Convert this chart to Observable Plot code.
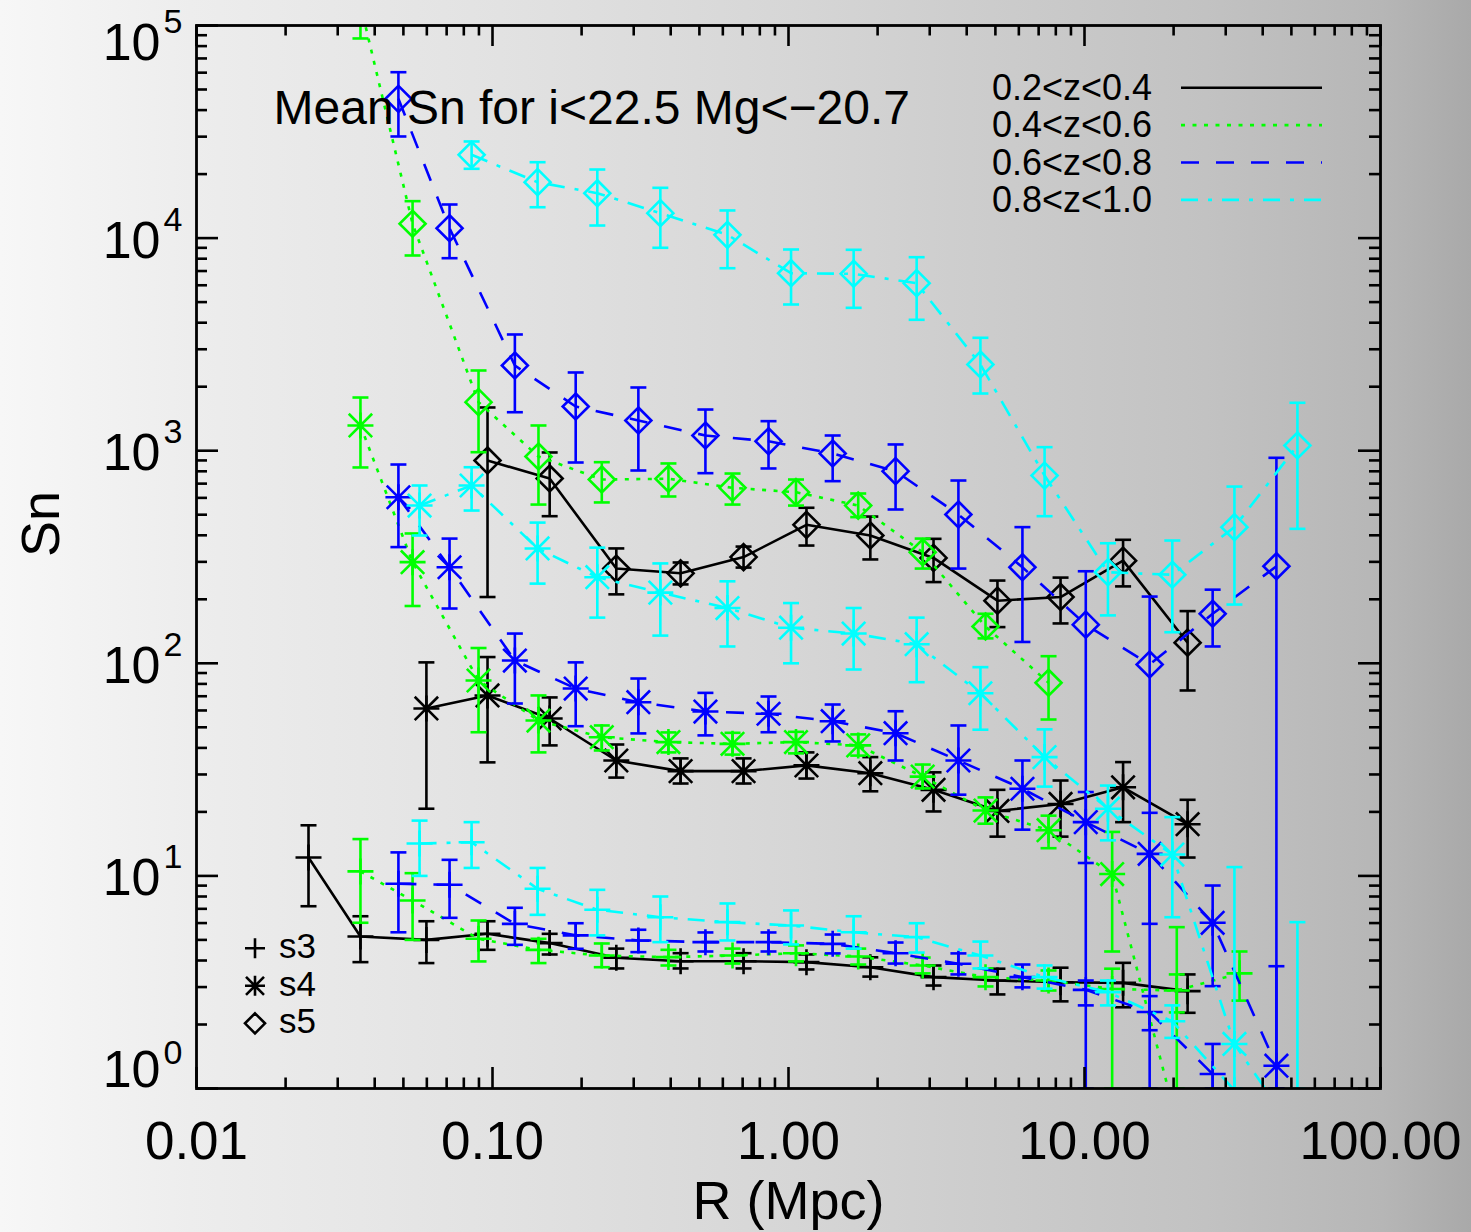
<!DOCTYPE html>
<html><head><meta charset="utf-8">
<script src="https://cdn.jsdelivr.net/npm/d3@7"></script>
<script src="https://cdn.jsdelivr.net/npm/@observablehq/plot@0.6"></script>
<style>
html,body{margin:0;padding:0;}
body{width:1471px;height:1232px;overflow:hidden;
background:linear-gradient(to right,#f7f7f7 0%,#ededed 13%,#e2e2e2 34%,#d6d6d6 54%,#cdcdcd 66%,#c2c2c2 82%,#b6b6b6 94%,#a9a9a9 100%);}
#chart svg{display:block;}
</style></head><body><div id="chart"></div>
<script>
// ---------------- data ----------------
// radii (Mpc) of the bins for each redshift slice
const R_z1 = [0.0239, 0.0358, 0.0598, 0.0962, 0.156, 0.262, 0.432, 0.705, 1.15, 1.89, 3.09, 5.08, 8.30, 13.5, 22.3];
const R_z2 = [0.0358, 0.0537, 0.0897, 0.143, 0.234, 0.393, 0.647, 1.06, 1.72, 2.84, 4.63, 7.56, 12.4, 20.5, 33.4];
const R_z3 = [0.0481, 0.0716, 0.119, 0.191, 0.311, 0.524, 0.856, 1.41, 2.30, 3.75, 6.17, 10.1, 16.6, 27.1, 44.5];
const R_z4 = [0.0567, 0.0850, 0.142, 0.226, 0.369, 0.622, 1.02, 1.66, 2.71, 4.45, 7.33, 12.0, 19.8, 32.1, 52.4];

// 0.2<z<0.4
const z1_s3    = [12.2, 5.19, 5.00, 5.34, 4.83, 4.12, 3.97, 3.97, 3.93, 3.72, 3.34, 3.22, 3.16, 3.14, 2.87];
const z1_s3_lo = [7.20, 3.93, 3.89, 4.49, 4.27, 3.67, 3.67, 3.67, 3.63, 3.36, 3.05, 2.77, 2.57, 2.41, 2.27];
const z1_s3_hi = [17.3, 6.46, 6.12, 6.12, 5.34, 4.55, 4.33, 4.33, 4.27, 4.14, 3.79, 3.66, 3.70, 3.90, 3.44];
const z1_s4    = [null, null, 61.3, 70.6, 55.0, 34.9, 31.1, 31.1, 33.1, 30.4, 25.4, 20.2, 21.8, 26.1, 17.5];
const z1_s4_lo = [null, null, 20.7, 34.2, 41.1, 29.0, 27.2, 27.2, 28.7, 25.0, 20.1, 15.3, 15.3, 17.9, 12.2];
const z1_s4_hi = [null, null, 101, 107, 69.1, 41.5, 35.7, 35.7, 38.1, 36.2, 30.7, 25.4, 28.1, 34.3, 22.8];
const z1_s5    = [null, null, null, 899, 740, 279, 265, 316, 448, 399, 313, 197, 205, 304, 125];
const z1_s5_lo = [null, null, null, 205, 492, 211, 235, 282, 358, 308, 241, 148, 154, 230, 74.5];
const z1_s5_hi = [null, null, null, 1597, 981, 347, 298, 354, 539, 490, 385, 245, 253, 381, 176];

// 0.4<z<0.6
const z2_s3    = [10.5, 7.66, 5.06, 4.49, 4.22, 4.15, 4.22, 4.33, 4.18, 3.79, 3.34, 3.22, 2.94, 2.89, 3.48];
const z2_s3_lo = [6.02, 5.00, 3.96, 3.89, 3.72, 3.79, 3.87, 3.96, 3.83, 3.48, 3.02, 2.89, 1.00, 2.28, 2.59];
const z2_s3_hi = [14.9, 10.3, 6.17, 5.06, 4.81, 4.49, 4.55, 4.71, 4.55, 4.13, 3.67, 3.59, 3.66, 3.44, 4.41];
const z2_s4    = [1314, 299, 83.0, 53.8, 44.9, 42.6, 41.8, 42.6, 41.1, 29.3, 20.3, 16.4, 10.2, 0.7, null];
const z2_s4_lo = [834, 186, 47.4, 38.1, 38.9, 38.1, 37.2, 37.7, 36.8, 25.8, 17.6, 13.5, 4.41, 1.00, null];
const z2_s4_hi = [1779, 408, 118, 70.6, 51.0, 47.3, 47.1, 47.6, 46.3, 33.4, 23.4, 19.2, 16.1, 5.74, null];
const z2_s5    = [125000, 11680, 1691, 939, 732, 738, 669, 638, 552, 333, 149, 81.0, null, null, null];
const z2_s5_lo = [86900, 8284, 984, 558, 571, 609, 558, 552, 487, 279, 131, 54.4, null, null, null];
const z2_s5_hi = [180000, 14920, 2384, 1314, 883, 871, 781, 732, 629, 386, 171, 108, null, null, null];

// 0.6<z<0.8
const z3_s3    = [9.18, 9.08, 5.95, 5.25, 4.97, 4.88, 4.88, 4.79, 4.33, 3.86, 3.34, 2.91, 2.29, 1.17, null];
const z3_s3_lo = [5.43, 6.35, 4.74, 4.54, 4.38, 4.41, 4.41, 4.32, 3.87, 3.44, 2.99, 2.46, 1.88, 1.00, null];
const z3_s3_hi = [12.9, 11.9, 7.08, 5.99, 5.58, 5.42, 5.42, 5.30, 4.86, 4.32, 3.83, 3.22, 2.72, 1.62, null];
const z3_s4    = [604, 283, 103, 76.1, 65.6, 59.3, 57.9, 53.4, 46.9, 34.9, 25.7, 17.9, 12.7, 6.02, 1.28];
const z3_s4_lo = [352, 181, 64.7, 50.6, 46.8, 45.8, 47.4, 42.9, 34.9, 24.1, 16.5, 11.5, 5.95, 3.03, 1.00];
const z3_s4_hi = [861, 386, 138, 101, 84.8, 72.6, 69.8, 64.0, 59.5, 51.0, 34.9, 24.8, 19.8, 9.01, 3.76];
const z3_s5    = [45200, 11130, 2516, 1614, 1387, 1179, 1108, 970, 801, 501, 283, 152, 98.7, 171, 286];
const z3_s5_lo = [30060, 8045, 1517, 880, 807, 784, 825, 719, 529, 279, 126, 1.00, 1.00, 120, 1.00];
const z3_s5_hi = [60300, 14390, 3521, 2333, 1983, 1562, 1377, 1179, 1070, 724, 437, 271, 206, 222, 926];

// 0.8<z<1.0
const z4_s3    = [14.2, 14.4, 8.70, 6.93, 6.39, 6.06, 5.84, 5.43, 5.15, 4.22, 3.34, 2.84, 2.07, 0.98, null];
const z4_s3_lo = [10.0, 10.9, 6.56, 5.25, 4.88, 4.97, 4.76, 4.55, 4.36, 3.67, 2.95, 2.46, 1.73, null, null];
const z4_s3_hi = [18.2, 17.9, 10.9, 8.60, 8.00, 7.42, 6.88, 6.46, 5.99, 4.91, 3.79, 3.22, 2.46, null, null];
const z4_s4    = [552, 686, 347, 254, 215, 182, 147, 138, 123, 72.3, 36.2, 20.7, 12.6, 1.62, 0.6];
const z4_s4_lo = [399, 523, 237, 164, 135, 120, 100, 93.5, 81.5, 48.7, 26.3, 14.7, 6.39, 1.00, 1.00];
const z4_s4_hi = [686, 836, 459, 350, 295, 243, 192, 182, 164, 95.9, 48.9, 26.6, 18.9, 11.0, 6.06];
const z4_s5    = [null, 24650, 18320, 16260, 13100, 10360, 6837, 6795, 6137, 2544, 764, 268, 261, 437, 1058];
const z4_s5_lo = [null, 21180, 13970, 11460, 9005, 7217, 4872, 4700, 4128, 1858, 492, 168, 140, 189, 429];
const z4_s5_hi = [null, 28480, 22750, 21020, 17240, 13490, 8839, 8810, 8131, 3397, 1039, 367, 378, 678, 1680];

const zLabels = ["0.2<z<0.4", "0.4<z<0.6", "0.6<z<0.8", "0.8<z<1.0"];
const statLabels = ["s3", "s4", "s5"];
const xMajor = [0.01, 0.1, 1, 10, 100];
const xTickLabels = ["0.01", "0.10", "1.00", "10.00", "100.00"];
const yMajor = [1, 10, 100, 1000, 10000, 100000];
const yTickExp = ["0", "1", "2", "3", "4", "5"];
const titleText = "Mean Sn for i<22.5 Mg<\u221220.7";

// ---------------- layout / style ----------------
const W = 1471, H = 1232, ML = 196, MR = 91, MT = 25, MB = 144;
const FW = W - ML - MR, FH = H - MT - MB;
const FONT = "'Liberation Sans', Arial, Helvetica, sans-serif";
const LW = 2.6;
const zStyles = [
  {color: "#000000", dash: null},
  {color: "#00ff00", dash: "4,7.5"},
  {color: "#0000ff", dash: "18,17"},
  {color: "#00ffff", dash: "17,10,4,10"}
];

// symbols
const rad = s => Math.sqrt(s / Math.PI);
const symPlus = {draw(c, s) { const r = rad(s); c.moveTo(-r, 0); c.lineTo(r, 0); c.moveTo(0, -r); c.lineTo(0, r); }};
const symAst = {draw(c, s) { const r = rad(s), d = r * 0.9;
  c.moveTo(-r, 0); c.lineTo(r, 0); c.moveTo(0, -r); c.lineTo(0, r);
  c.moveTo(-d, -d); c.lineTo(d, d); c.moveTo(-d, d); c.lineTo(d, -d); }};
const symDiamond = {draw(c, s) { const r = rad(s); c.moveTo(0, -r); c.lineTo(r, 0); c.lineTo(0, r); c.lineTo(-r, 0); c.closePath(); }};
const symCap = {draw(c, s) { const r = rad(s); c.moveTo(-r, 0); c.lineTo(r, 0); }};
const statSyms = [symPlus, symAst, symDiamond];

const bins = [
  {R: R_z1, stats: [[z1_s3, z1_s3_lo, z1_s3_hi], [z1_s4, z1_s4_lo, z1_s4_hi], [z1_s5, z1_s5_lo, z1_s5_hi]]},
  {R: R_z2, stats: [[z2_s3, z2_s3_lo, z2_s3_hi], [z2_s4, z2_s4_lo, z2_s4_hi], [z2_s5, z2_s5_lo, z2_s5_hi]]},
  {R: R_z3, stats: [[z3_s3, z3_s3_lo, z3_s3_hi], [z3_s4, z3_s4_lo, z3_s4_hi], [z3_s5, z3_s5_lo, z3_s5_hi]]},
  {R: R_z4, stats: [[z4_s3, z4_s3_lo, z4_s3_hi], [z4_s4, z4_s4_lo, z4_s4_hi], [z4_s5, z4_s5_lo, z4_s5_hi]]}
];

const dataMarks = [];
bins.forEach((b, zi) => {
  const st = zStyles[zi];
  b.stats.forEach(([v, lo, hi], si) => {
    const rows = b.R.map((r, i) => ({R: r, v: v[i], lo: lo[i], hi: hi[i]})).filter(d => d.v != null);
    const ebar = rows.filter(d => d.lo != null && d.hi != null);
    dataMarks.push(
      Plot.line(rows, {x: "R", y: "v", stroke: st.color, strokeWidth: LW, strokeDasharray: st.dash, strokeLinecap: "butt", clip: true}),
      Plot.ruleX(ebar, {x: "R", y1: "lo", y2: "hi", stroke: st.color, strokeWidth: LW, clip: true}),
      Plot.dot(ebar, {x: "R", y: "hi", symbol: symCap, r: 8, stroke: st.color, strokeWidth: LW, fill: "none", clip: true}),
      Plot.dot(ebar, {x: "R", y: "lo", symbol: symCap, r: 8, stroke: st.color, strokeWidth: LW, fill: "none", clip: true}),
      Plot.dot(rows, {x: "R", y: "v", symbol: statSyms[si], r: 13, stroke: st.color, strokeWidth: LW, fill: "none", clip: true})
    );
  });
});

const decades = [2, 3, 4, 5, 6, 7, 8, 9];
const xMinor = xMajor.slice(0, -1).flatMap(d => decades.map(k => k * d));
const yMinor = yMajor.slice(0, -1).flatMap(d => decades.map(k => k * d));
const xTicks = xMajor.map((v, i) => ({v, t: xTickLabels[i]}));
const yTicks = yMajor.map((v, i) => ({v, e: yTickExp[i]}));
const tk = {stroke: "#000", strokeWidth: LW};

const yLabelMarks = (ticks, dyBase, dyExp) => [
  Plot.text(ticks, {y: "v", text: () => "10", frameAnchor: "left", textAnchor: "end", lineAnchor: "bottom", dx: -36, dy: dyBase, fontSize: 52, fill: "#000"}),
  Plot.text(ticks, {y: "v", text: "e", frameAnchor: "left", textAnchor: "start", lineAnchor: "bottom", dx: -33, dy: dyExp, fontSize: 34, fill: "#000"})
];

const chart = Plot.plot({
  width: W, height: H,
  marginLeft: ML, marginRight: MR, marginTop: MT, marginBottom: MB,
  x: {type: "log", domain: [0.01, 100], axis: null},
  y: {type: "log", domain: [1, 1e5], axis: null},
  style: {background: "transparent", fontFamily: FONT, overflow: "visible"},
  marks: [
    ...dataMarks,
    // ticks (inward)
    Plot.ruleX(xMajor, {x: d => d, insetTop: FH - 21, ...tk}),
    Plot.ruleX(xMajor, {x: d => d, insetBottom: FH - 21, ...tk}),
    Plot.ruleX(xMinor, {x: d => d, insetTop: FH - 10.5, ...tk}),
    Plot.ruleX(xMinor, {x: d => d, insetBottom: FH - 10.5, ...tk}),
    Plot.ruleY(yMajor, {y: d => d, insetRight: FW - 22, ...tk}),
    Plot.ruleY(yMajor, {y: d => d, insetLeft: FW - 22, ...tk}),
    Plot.ruleY(yMinor, {y: d => d, insetRight: FW - 11, ...tk}),
    Plot.ruleY(yMinor, {y: d => d, insetLeft: FW - 11, ...tk}),
    Plot.frame({stroke: "#000", strokeWidth: 2.8}),
    // tick labels
    Plot.text(xTicks, {x: "v", text: "t", frameAnchor: "bottom", lineAnchor: "bottom", dy: 70, fontSize: 53, fill: "#000"}),
    ...yLabelMarks(yTicks.slice(1, -1), 19.5, -7.6),
    ...yLabelMarks(yTicks.slice(-1), 34.3, 7),
    ...yLabelMarks(yTicks.slice(0, 1), -1.3, -25),
    // titles
    Plot.text(["R (Mpc)"], {text: d => d, frameAnchor: "bottom", lineAnchor: "bottom", dy: 130, fontSize: 54, fill: "#000"}),
    Plot.text(["Sn"], {text: d => d, frameAnchor: "left", lineAnchor: "bottom", rotate: -90, dx: -138, fontSize: 54, fill: "#000"}),
    Plot.text([titleText], {text: d => d, frameAnchor: "top-left", textAnchor: "start", lineAnchor: "bottom", dx: 77, dy: 98, fontSize: 48, fill: "#000"})
  ]
});
document.getElementById("chart").appendChild(chart);

// ---------------- legends ----------------
const svg = d3.select(chart);
const lg = svg.append("g").attr("font-family", FONT).attr("fill", "#000").attr("text-anchor", "start");
zLabels.forEach((lab, i) => {
  const y = 87.7 + i * 37.4;
  lg.append("text").attr("x", 992).attr("y", y + 12.3).attr("font-size", 36).attr("text-anchor", "start").text(lab);
  lg.append("line").attr("x1", 1181).attr("x2", 1322).attr("y1", y).attr("y2", y)
    .attr("stroke", zStyles[i].color).attr("stroke-width", LW)
    .attr("stroke-dasharray", zStyles[i].dash);
});
statLabels.forEach((lab, i) => {
  const y = 948.3 + i * 37.5;
  lg.append("path").attr("transform", `translate(255,${y})`)
    .attr("d", d3.symbol(statSyms[i], Math.PI * 10 * 10)())
    .attr("fill", "none").attr("stroke", "#000").attr("stroke-width", LW);
  lg.append("text").attr("x", 279).attr("y", y + 9.7).attr("font-size", 35).attr("text-anchor", "start").text(lab);
});
</script></body></html>
